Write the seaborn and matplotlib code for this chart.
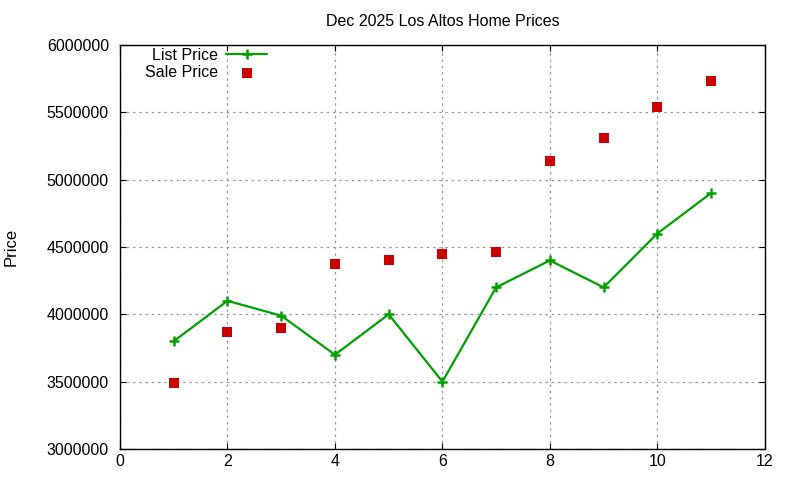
import numpy as np
import pandas as pd
import seaborn as sns
import matplotlib
matplotlib.use('Agg')
import matplotlib.pyplot as plt

# Data
home_index = [1, 2, 3, 4, 5, 6, 7, 8, 9, 10, 11]
list_price = [3800000, 4100000, 3990000, 3700000, 4000000, 3500000,
              4200000, 4400000, 4200000, 4600000, 4900000]
sale_price = [3490000, 3870000, 3900000, 4370000, 4400000, 4450000,
              4460000, 5140000, 5310000, 5540000, 5730000]

df = pd.DataFrame({'idx': home_index, 'list': list_price, 'sale': sale_price})

sns.set_style('white', {'xtick.bottom': True, 'xtick.top': True,
                        'ytick.left': True, 'ytick.right': True,
                        'text.color': 'black', 'axes.labelcolor': 'black',
                        'xtick.color': 'black', 'ytick.color': 'black'})
plt.rcParams['font.family'] = ['Liberation Sans', 'DejaVu Sans']

green = '#00a000'
red = '#cc0000'

fig = plt.figure(figsize=(8, 4.8), dpi=100)
ax = fig.add_axes([0.15, 0.0646, 0.806, 0.8417])

sns.lineplot(data=df, x='idx', y='list', ax=ax, color=green, linewidth=1.6,
             marker='+', markersize=6.5, markeredgewidth=1.8,
             markeredgecolor=green, label='List Price')
sns.scatterplot(data=df, x='idx', y='sale', ax=ax, color=red, marker='s',
                s=45, linewidth=0, label='Sale Price')

ax.set_xlim(0, 12)
ax.set_ylim(3000000, 6000000)
ax.set_xticks(range(0, 13, 2))
ax.set_yticks(range(3000000, 6000001, 500000))
ax.ticklabel_format(style='plain', axis='y')
ax.tick_params(labelsize=11.5, direction='in', length=4, color='black',
               labelcolor='black', top=True, right=True)
ax.tick_params(axis='y', pad=8)
ax.grid(True, color='#999999', linestyle=(0, (2, 3)), linewidth=0.9)
for s in ax.spines.values():
    s.set_color('black')
    s.set_linewidth(1)

ax.set_xlabel('')
ax.set_ylabel('Price', fontsize=12, labelpad=20, color='black')
ax.set_title('Dec 2025 Los Altos Home Prices', fontsize=11.5, pad=14, color='black')

leg = ax.legend(loc='upper left', bbox_to_anchor=(0.021, 1.02), frameon=False,
                markerfirst=False, fontsize=11.5, handlelength=2.6, labelspacing=0.12,
                handletextpad=0.5, borderaxespad=0.3)
for t in leg.get_texts():
    t.set_color('black')

fig.savefig('out.png', dpi=100)
